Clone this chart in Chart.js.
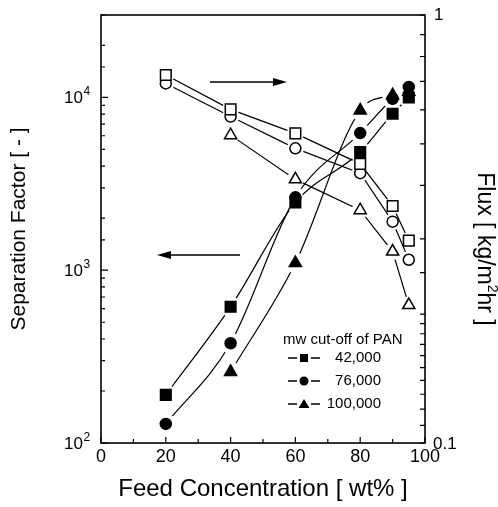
<!DOCTYPE html>
<html>
<head>
<meta charset="utf-8">
<script src="https://cdn.jsdelivr.net/npm/chart.js@4.4.0/dist/chart.umd.min.js"></script>
<style>
html,body{margin:0;padding:0;background:#fff}
#wrap{width:498px;height:507px}
</style>
</head>
<body>
<div id="wrap"><canvas id="c" width="498" height="507"></canvas></div>
<script>
// ── data ──────────────────────────────
const conc=[20,40,60,80,90,95];
// separation factor (left axis, filled symbols)
const sf42 =[190,614,2470,4830,8050,10000];
const sf76 =[129,378,2640,6220,9820,11500];
const sf100=[null,258,1100,8410,10300,10800];
// flux kg/m2hr (right axis, open symbols)
const fx42 =[0.724,0.602,0.529,0.449,0.358,0.297];
const fx76 =[0.692,0.579,0.488,0.427,0.329,0.268];
const fx100=[null,0.524,0.413,0.350,0.280,0.210];
const mwLabels=['42,000','76,000','100,000'];
const xTicks=[0,20,40,60,80,100];

const F="'Liberation Sans', Arial, Helvetica, sans-serif";
const INK='#000';

function pts(arr){return conc.map((x,i)=>({x,y:arr[i]}))}

// each series = a line dataset (with gaps round markers) + a marker dataset
function lineDs(arr,axis,curve){
  return {data:pts(arr),yAxisID:axis,borderColor:INK,borderWidth:1.2,pointRadius:0,
    fill:false,gap:curve?10.5:8.5,tension:curve?0.4:0,cubicInterpolationMode:curve?'monotone':'default',order:2};
}
function markDs(arr,axis,style,r,filled){
  return {data:pts(arr),yAxisID:axis,showLine:false,pointStyle:style,pointRadius:r,
    pointBorderColor:INK,pointBorderWidth:1.5,pointBackgroundColor:filled?INK:'#fff',order:1};
}

const datasets=[
  lineDs(fx42,'y2',false), lineDs(fx76,'y2',false), lineDs(fx100,'y2',false),
  lineDs(sf42,'y',true),   lineDs(sf76,'y',true),   lineDs(sf100,'y',true),
  markDs(fx42,'y2','rect',7.5,false), markDs(fx76,'y2','circle',5.5,false), markDs(fx100,'y2','triangle',7,false),
  markDs(sf42,'y','rect',7.5,true),   markDs(sf76,'y','circle',5.5,true),   markDs(sf100,'y','triangle',7,true)
];

// cut the connecting lines short of each marker (Origin style)
const gapClip={
  id:'gapClip',
  beforeDatasetDraw(chart,args){
    const ds=chart.data.datasets[args.index];
    if(!ds.gap)return;
    const ctx=chart.ctx;
    ctx.save();
    args.meta.data.forEach(p=>{
      if(!isFinite(p.x)||!isFinite(p.y))return;
      ctx.beginPath();
      ctx.rect(0,0,chart.width,chart.height);
      ctx.moveTo(p.x+ds.gap,p.y);
      ctx.arc(p.x,p.y,ds.gap,0,Math.PI*2);
      ctx.clip('evenodd');
    });
  },
  afterDatasetDraw(chart,args){
    if(chart.data.datasets[args.index].gap)chart.ctx.restore();
  }
};

function arrow(ctx,x1,x2,y){
  const d=Math.sign(x2-x1);
  ctx.beginPath();ctx.moveTo(x1,y);ctx.lineTo(x2-d*10,y);ctx.lineWidth=1.5;ctx.stroke();
  ctx.beginPath();ctx.moveTo(x2,y);ctx.lineTo(x2-d*14,y-4);ctx.lineTo(x2-d*14,y+4);ctx.closePath();ctx.fill();
}
function symbol(ctx,style,x,y,s){
  ctx.beginPath();
  if(style==='rect')ctx.rect(x-s/2,y-s/2,s,s);
  else if(style==='circle')ctx.arc(x,y,s/2+0.5,0,Math.PI*2);
  else{ctx.moveTo(x,y-s/2-1);ctx.lineTo(x+s/2+1.5,y+s/2);ctx.lineTo(x-s/2-1.5,y+s/2);ctx.closePath();}
  ctx.fill();
}

const decor={
  id:'decor',
  afterDraw(chart){
    const ctx=chart.ctx,a=chart.chartArea,sx=chart.scales.x,sy=chart.scales.y,sy2=chart.scales.y2;
    ctx.save();
    ctx.strokeStyle=INK;ctx.fillStyle=INK;
    // frame
    ctx.lineWidth=1.6;
    ctx.strokeRect(a.left,a.top,a.right-a.left,a.bottom-a.top);
    // inward tick marks
    ctx.lineWidth=1.2;
    ctx.beginPath();
    sx.ticks.forEach(t=>{
      const x=sx.getPixelForValue(t.value),len=t.value%20===0?6:4;
      ctx.moveTo(x,a.bottom);ctx.lineTo(x,a.bottom-len);
    });
    sy.ticks.forEach(t=>{
      const y=sy.getPixelForValue(t.value);
      const major=Math.abs(Math.log10(t.value)%1)<1e-6;
      ctx.moveTo(a.left,y);ctx.lineTo(a.left+(major?7:4),y);
    });
    sy2.ticks.forEach(t=>{
      const y=sy2.getPixelForValue(t.value);
      ctx.moveTo(a.right,y);ctx.lineTo(a.right-5,y);
    });
    ctx.stroke();
    // left tick labels 10^n
    ctx.textBaseline='alphabetic';
    sy.ticks.forEach(t=>{
      const e=Math.log10(t.value);
      if(Math.abs(e-Math.round(e))>1e-6)return;
      const y=sy.getPixelForValue(t.value);
      ctx.font='17px '+F;ctx.textAlign='right';
      ctx.fillText('10',83,y+6);
      ctx.font='12px '+F;ctx.textAlign='left';
      ctx.fillText(String(Math.round(e)),83.5,y-2);
    });
    // right tick labels
    ctx.font='17px '+F;ctx.textAlign='left';ctx.textBaseline='middle';
    ctx.fillText('1',434,sy2.getPixelForValue(1)+0.5);
    ctx.fillText('0.1',433,sy2.getPixelForValue(0.1)+1);
    // right axis title
    ctx.save();
    ctx.translate(484,249);ctx.rotate(Math.PI/2);
    ctx.textBaseline='middle';
    const t1='Flux [ kg/m',t2='hr ]';
    ctx.font='23px '+F;const w1=ctx.measureText(t1).width,w2=ctx.measureText(t2).width;
    ctx.font='14px '+F;const ws=ctx.measureText('2').width;
    let x0=-(w1+ws+w2)/2;
    ctx.textAlign='left';
    ctx.font='23px '+F;ctx.fillText(t1,x0,0);
    ctx.font='14px '+F;ctx.fillText('2',x0+w1,-8);
    ctx.font='23px '+F;ctx.fillText(t2,x0+w1+ws,0);
    ctx.restore();
    // arrows
    arrow(ctx,210,287,82);
    arrow(ctx,240,157,255);
    // legend
    ctx.font='15px '+F;ctx.textAlign='left';ctx.textBaseline='middle';
    ctx.fillText('mw cut-off of PAN',283,340);
    const rows=[358,381,404],styles=['rect','circle','triangle'];
    rows.forEach((y,i)=>{
      ctx.lineWidth=1.3;
      ctx.beginPath();ctx.moveTo(288,y);ctx.lineTo(297,y);ctx.moveTo(311,y);ctx.lineTo(320,y);ctx.stroke();
      symbol(ctx,styles[i],304,y,8);
      ctx.textAlign='right';ctx.font='15px '+F;
      ctx.fillText(mwLabels[i],381,y);
    });
    ctx.restore();
  }
};

new Chart(document.getElementById('c'),{
  type:'line',
  data:{datasets},
  options:{
    responsive:false,animation:false,
    layout:{padding:{top:15,left:0,right:0,bottom:0}},
    plugins:{legend:{display:false},tooltip:{enabled:false}},
    scales:{
      x:{type:'linear',min:0,max:100,
        ticks:{stepSize:10,autoSkip:false,maxRotation:0,padding:3,color:INK,font:{family:F,size:18},
          callback:v=>xTicks.includes(v)?String(v):''},
        grid:{display:false,drawTicks:false},border:{display:false},
        title:{display:true,text:'Feed Concentration [ wt% ]',color:INK,font:{family:F,size:24},padding:{top:0,bottom:3}},
        afterFit:s=>{s.height=64}},
      y:{type:'logarithmic',position:'left',min:100,max:30000,
        ticks:{display:false},grid:{display:false,drawTicks:false},border:{display:false},
        title:{display:true,text:'Separation Factor [ - ]',color:INK,font:{family:F,size:21},padding:{top:7,bottom:0}},
        afterFit:s=>{s.width=101}},
      y2:{type:'logarithmic',position:'right',min:0.1,max:1,
        ticks:{display:false},grid:{display:false,drawTicks:false},border:{display:false},
        afterFit:s=>{s.width=73}}
    }
  },
  plugins:[gapClip,decor]
});
</script>
</body>
</html>
